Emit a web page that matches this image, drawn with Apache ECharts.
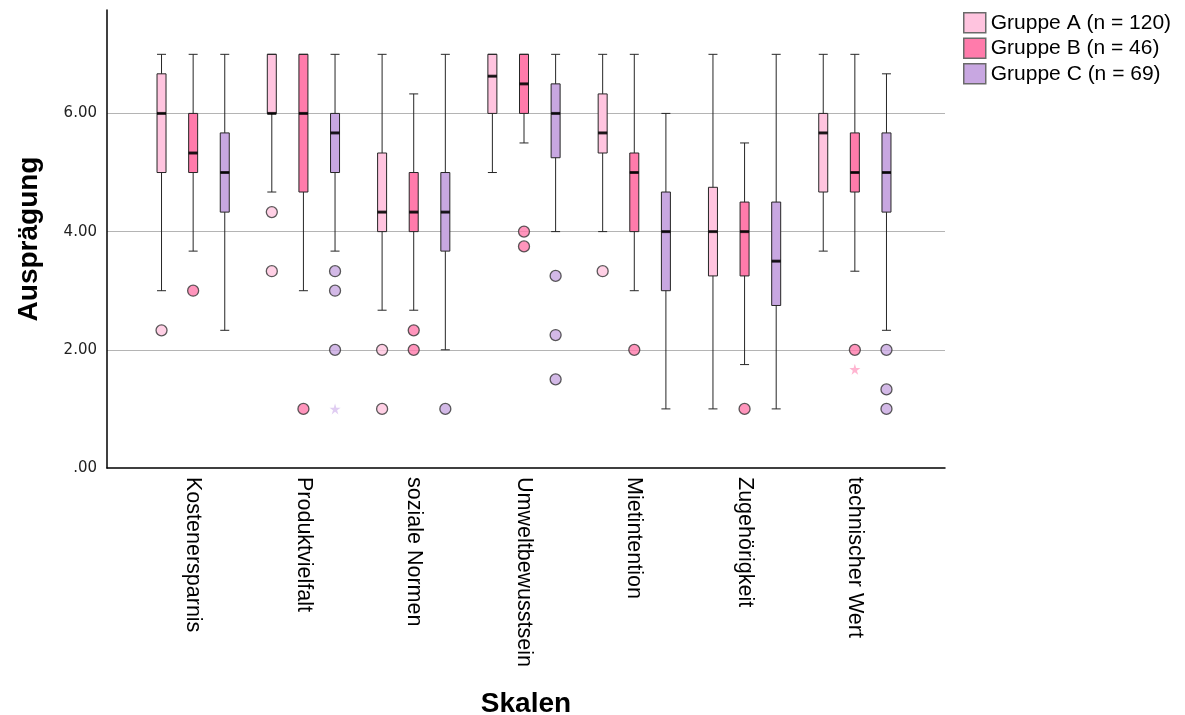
<!DOCTYPE html>
<html>
<head>
<meta charset="utf-8"/>
<title>Skalen nach Gruppe</title>
<script src="https://cdn.jsdelivr.net/npm/echarts@6.0.0/dist/echarts.min.js"></script>
<style>
    html, body { margin: 0; padding: 0; background: #fff; }
    #chart { width: 1185px; height: 715px; }
</style>
</head>
<body>
<div id="chart"></div>
<script>
var categories = ['Kostenersparnis', 'Produktvielfalt', 'soziale Normen', 'Umweltbewusstsein', 'Mietintention', 'Zugehörigkeit', 'technischer Wert'];
var groupNames = ['Gruppe A (n = 120)', 'Gruppe B (n = 46)', 'Gruppe C (n = 69)'];
var groupColors = ['#ffc4df', '#ff7bab', '#c8a7e1'];
var starColors = ['#ffb3d2', '#ffa3c6', '#d8c0ef'];
var yTicks = [0, 2, 4, 6];

// [unterer Whisker, Q1, Median, Q3, oberer Whisker]
var boxA = [
    [3.00, 5.00, 6.00, 6.67, 7.00],
    [4.67, 6.00, 6.00, 7.00, 7.00],
    [2.67, 4.00, 4.33, 5.33, 7.00],
    [5.00, 6.00, 6.63, 7.00, 7.00],
    [4.00, 5.33, 5.67, 6.33, 7.00],
    [1.00, 3.25, 4.00, 4.75, 7.00],
    [3.67, 4.67, 5.67, 6.00, 7.00]
];
var boxB = [
    [3.67, 5.00, 5.33, 6.00, 7.00],
    [3.00, 4.67, 6.00, 7.00, 7.00],
    [2.67, 4.00, 4.33, 5.00, 6.33],
    [5.50, 6.00, 6.50, 7.00, 7.00],
    [3.00, 4.00, 5.00, 5.33, 7.00],
    [1.75, 3.25, 4.00, 4.50, 5.50],
    [3.33, 4.67, 5.00, 5.67, 7.00]
];
var boxC = [
    [2.33, 4.33, 5.00, 5.67, 7.00],
    [3.67, 5.00, 5.67, 6.00, 7.00],
    [2.00, 3.67, 4.33, 5.00, 7.00],
    [4.00, 5.25, 6.00, 6.50, 7.00],
    [1.00, 3.00, 4.00, 4.67, 6.00],
    [1.00, 2.75, 3.50, 4.50, 7.00],
    [2.33, 4.33, 5.00, 5.67, 6.67]
];

// Ausreißer: [Kategorie-Index, Wert]
var outA = [[0, 2.33], [1, 4.33], [1, 3.33], [2, 2.00], [2, 1.00], [4, 3.33]];
var outB = [[0, 3.00], [1, 1.00], [2, 2.33], [2, 2.00], [3, 4.00], [3, 3.75], [4, 2.00], [5, 1.00], [6, 2.00]];
var outC = [[1, 3.33], [1, 3.00], [1, 2.00], [2, 1.00], [3, 3.25], [3, 2.25], [3, 1.50], [6, 2.00], [6, 1.33], [6, 1.00]];

// Extremwerte (Stern)
var extA = [];
var extB = [[6, 1.67]];
var extC = [[1, 1.00]];

var boxes = [boxA, boxB, boxC];
var outliers = [outA, outB, outC];
var extremes = [extA, extB, extC];

var fontFamily = 'Liberation Sans, Arial, sans-serif';
var starPath = 'path://M50,0 L61,35 L98,35 L68,57 L79,91 L50,70 L21,91 L32,57 L2,35 L39,35 Z';

// Rahmen (Achsenlinien) und eigentliche Zeichenfläche
var frame = {left: 107, top: 10, width: 838, height: 458};
var plot = {left: 138, top: 10, width: 772, height: 458};

// gleicher Versatz wie im Boxplot-Layout von ECharts
var band = plot.width / categories.length;
var avail = band * 0.8 - 2;
var step = avail * 0.1 + avail * 0.8 / 3;
var offsets = [-step, 0, step];

var series = [];
boxes.forEach(function (box, g) {
    series.push({
        name: groupNames[g],
        type: 'boxplot',
        xAxisIndex: 1,
        yAxisIndex: 1,
        boxWidth: [9, 9],
        itemStyle: {color: groupColors[g], borderColor: '#262626', borderWidth: 1},
        emphasis: {disabled: true},
        data: box,
        z: 2
    });
});
boxes.forEach(function (box, g) {
    series.push({
        type: 'scatter',
        xAxisIndex: 1,
        yAxisIndex: 1,
        symbol: 'rect',
        symbolSize: [9, 3],
        symbolOffset: [offsets[g], 0],
        itemStyle: {color: '#000'},
        silent: true,
        data: box.map(function (b, i) { return [i, b[2]]; }),
        z: 3
    });
    series.push({
        type: 'scatter',
        xAxisIndex: 1,
        yAxisIndex: 1,
        symbol: 'circle',
        symbolSize: 11,
        symbolOffset: [offsets[g], 0],
        itemStyle: {color: groupColors[g], borderColor: '#333', borderWidth: 1.3},
        silent: true,
        data: outliers[g],
        z: 4
    });
    series.push({
        type: 'scatter',
        xAxisIndex: 1,
        yAxisIndex: 1,
        symbol: starPath,
        symbolSize: 11,
        symbolOffset: [offsets[g], 0],
        itemStyle: {color: starColors[g]},
        silent: true,
        data: extremes[g],
        z: 4
    });
});

var chart = echarts.init(document.getElementById('chart'));
chart.setOption({
    animation: false,
    textStyle: {fontFamily: fontFamily},
    legend: {
        data: groupNames.map(function (n, i) {
            return {name: n, itemStyle: {color: groupColors[i], borderColor: '#6a6a6a', borderWidth: 1.5}};
        }),
        orient: 'vertical',
        left: 958,
        top: 7,
        itemWidth: 22,
        itemHeight: 20,
        itemGap: 4,
        icon: 'rect',
        selectedMode: false,
        textStyle: {fontSize: 21, lineHeight: 20, color: '#000', fontFamily: fontFamily}
    },
    grid: [
        {left: frame.left, top: frame.top, width: frame.width, height: frame.height, outerBoundsMode: 'none'},
        {left: plot.left, top: plot.top, width: plot.width, height: plot.height, outerBoundsMode: 'none'}
    ],
    xAxis: [
        {
            gridIndex: 0,
            type: 'value',
            min: 0,
            max: 1,
            axisLine: {show: true, lineStyle: {color: '#000', width: 1.5}},
            axisTick: {show: false},
            axisLabel: {show: false},
            splitLine: {show: false},
            name: 'Skalen',
            nameLocation: 'middle',
            nameGap: 222,
            nameTextStyle: {fontSize: 28, fontWeight: 'bold', color: '#000', fontFamily: fontFamily}
        },
        {
            gridIndex: 1,
            type: 'category',
            data: categories,
            axisLine: {show: false},
            axisTick: {show: false},
            axisLabel: {rotate: -90, fontSize: 21.5, margin: 9, color: '#000', fontFamily: fontFamily, interval: 0}
        }
    ],
    yAxis: [
        {
            gridIndex: 0,
            type: 'value',
            min: 0,
            max: 7.75,
            interval: 2,
            axisLine: {show: true, lineStyle: {color: '#000', width: 1.5}},
            axisTick: {show: false},
            axisLabel: {
                margin: 10,
                fontSize: 15,
                color: '#222',
                fontFamily: 'DejaVu Sans, sans-serif',
                showMaxLabel: false,
                formatter: function (v) {
                    if (yTicks.indexOf(v) < 0) return '';
                    return v === 0 ? '.00' : v.toFixed(2);
                }
            },
            splitLine: {show: true, showMinLine: false, showMaxLine: false, lineStyle: {color: '#b4b4b4', width: 1}},
            name: 'Ausprägung',
            nameLocation: 'middle',
            nameGap: 64,
            nameTextStyle: {fontSize: 28, fontWeight: 'bold', color: '#000', fontFamily: fontFamily}
        },
        {
            gridIndex: 1,
            type: 'value',
            min: 0,
            max: 7.75,
            show: false
        }
    ],
    series: series
});
</script>
</body>
</html>
